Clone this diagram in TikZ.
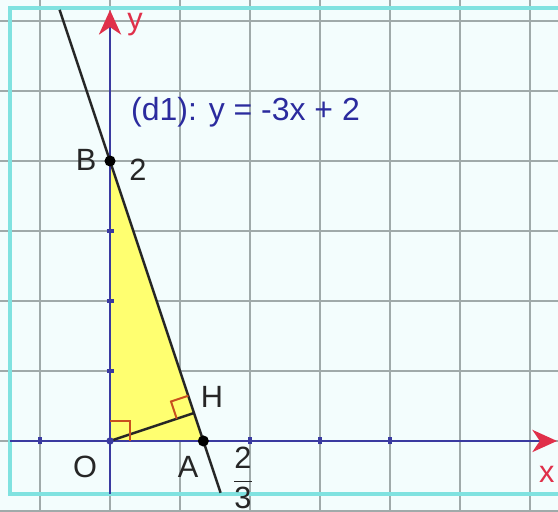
\documentclass[tikz,border=0pt]{standalone}
\usepackage{fontspec}
\setmainfont{Liberation Sans}
\usepackage{xcolor}
\usetikzlibrary{arrows.meta,calc}

\definecolor{bgcyan}{HTML}{F3FDFD}
\definecolor{gridgray}{HTML}{A0AAAA}
\definecolor{framecyan}{HTML}{80E2E0}
\definecolor{axisblue}{HTML}{3A3AA0}
\definecolor{arrowred}{HTML}{E0304A}
\definecolor{triyellow}{HTML}{FFFF70}
\definecolor{rared}{HTML}{C8501E}
\definecolor{eqblue}{HTML}{2B2B9E}

\begin{document}
\begin{tikzpicture}[x=2cm, y=2cm,
    gridline/.style={draw=gridgray, line width=0.8pt},
    axis/.style={draw=axisblue, line width=1.1pt, -{Stealth[length=10pt, width=9pt, inset=3pt, color=arrowred]}},
    tick/.style={draw=axisblue, line width=1.6pt},
    lbl/.style={font=\fontsize{12.5}{14}\selectfont, text=black!85, inner sep=1pt},
    dot/.style={circle, fill=black, inner sep=0pt, minimum size=4.5pt},
    ramark/.style={draw=rared, line width=0.8pt}]

    \useasboundingbox (-0.786,-0.507) rectangle (3.2,3.15);
    \clip (-0.786,-0.507) rectangle (3.2,3.15);
    \fill[bgcyan] (-0.786,-0.507) rectangle (3.2,3.15);

    % grid
    \foreach \g in {-0.5,0,0.5,1,1.5,2,2.5,3} {
        \draw[gridline] (\g,-0.6) -- (\g,3.2);
        \draw[gridline] (-0.8,\g) -- (3.3,\g);
    }
    \draw[framecyan, line width=1.3pt] (3.4,3.093) -- (-0.714,3.093) -- (-0.714,-0.379) -- (3.4,-0.379);

    % points
    \coordinate (O) at (0,0);
    \coordinate (A) at (2/3,0);
    \coordinate (B) at (0,2);
    \coordinate (H) at (0.6,0.2);
    \coordinate (d1top) at (-0.36,3.08);
    \coordinate (d1bot) at (0.79,-0.37);

    \fill[triyellow] (O) -- (A) -- (B) -- cycle;

    % axes
    \coordinate (xstart) at (-0.714,0);
    \coordinate (xend) at (3.193,0);
    \coordinate (ystart) at (0,-0.379);
    \coordinate (yend) at (0,3.079);
    \draw[axis] (xstart) -- (xend);
    \draw[axis] (ystart) -- (yend);
    \foreach \t in {-0.5,1,1.5,2} \draw[tick] (\t,-0.025) -- (\t,0.025);
    \foreach \t in {0.5,1,1.5} \draw[tick] (-0.025,\t) -- (0.025,\t);

    % line d1 and OH
    \draw[black!85, line width=1pt] (d1top) -- (d1bot);
    \draw[black!85, line width=1pt] (O) -- (H);

    % right angles
    \draw[ramark] (0,0.14) -- (0.14,0.14) -- (0.14,0);
    \coordinate (hO) at ($(H)!0.26cm!(O)$);
    \coordinate (hB) at ($(H)!0.26cm!(B)$);
    \draw[ramark] (hO) -- ($(hO)+(hB)-(H)$) -- (hB);

    \node[dot] (Bdot) at (B) {};
    \node[dot] (Adot) at (A) {};
    \node[circle, fill=axisblue, inner sep=0pt, minimum size=3pt] (Odot) at (O) {};

    % labels
    \node[lbl, text=arrowred] (ylbl) at (0.179,2.975) {y};
    \node[lbl, text=arrowred] (xlbl) at (3.12,-0.236) {x};
    \node[lbl, text=eqblue, anchor=west, font=\fontsize{13}{15}\selectfont] (eq) at (0.13,2.35) {(d1): y = -3x + 2};
    \node[lbl] (Blbl) at (-0.171,2.007) {B};
    \node[lbl] (Bval) at (0.2,1.936) {2};
    \node[lbl] (Hlbl) at (0.729,0.314) {H};
    \node[lbl] (Olbl) at (-0.179,-0.186) {O};
    \node[lbl] (Albl) at (0.557,-0.186) {A};
    \node[lbl] (Aval) at (0.95,-0.265) {$\displaystyle\frac{\mbox{2}}{\mbox{3}}$};
\end{tikzpicture}
\end{document}
